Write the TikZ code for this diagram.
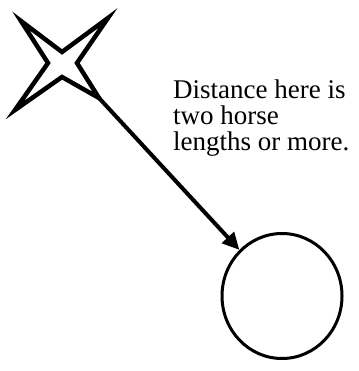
\documentclass[tikz,border=0pt]{standalone}
\usepackage{fontspec}
\setmainfont{Liberation Serif}
\usetikzlibrary{arrows.meta,shapes.geometric}
\begin{document}
\begin{tikzpicture}[x=1pt,y=-1pt,
  outline/.style={draw=black,line width=4.5pt,line join=miter},
  target/.style={draw=black,line width=3pt,ellipse,minimum width=120pt,minimum height=125pt,inner sep=0pt},
  link/.style={draw=black,line width=4pt,-{Triangle[length=17pt,width=16pt]}},
  note/.style={font=\fontsize{27}{26}\selectfont,align=left,anchor=base west,inner sep=0pt}]
\useasboundingbox (0,0) rectangle (358,371);
\draw[outline] (21,21) -- (62,52) -- (108,18) -- (77,63) -- (99,98) -- (62,77) -- (15,110) -- (48,63) -- cycle;
\coordinate (s) at (99,98);
\node[target] (c) at (282,296) {};
\draw[link] (s) -- (c);
\node[note] (t) at (173,151) {Distance here is\\two horse\\lengths or more.};
\end{tikzpicture}
\end{document}
